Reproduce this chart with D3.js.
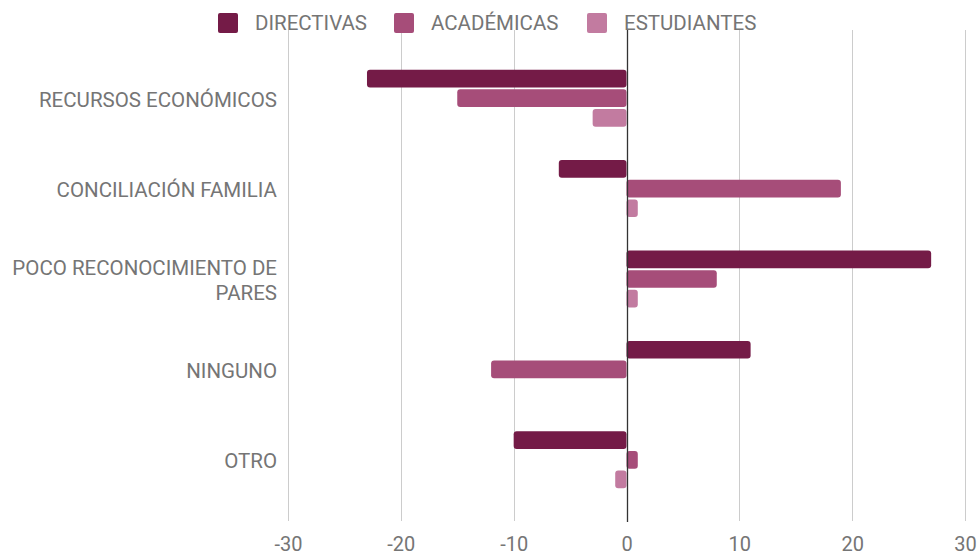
<!DOCTYPE html>
<html>
<head>
<meta charset="utf-8">
<script src="https://cdn.jsdelivr.net/npm/d3@7"></script>
<style>
  body { margin: 0; background: #fff; }
  text { font-family: Roboto, "Noto Sans", sans-serif; }
</style>
</head>
<body>
<div id="container"></div>
<script>
let w = 979;
let h = 555;

// data
let categories = ["RECURSOS ECONÓMICOS", "CONCILIACIÓN FAMILIA", "POCO RECONOCIMIENTO DE PARES", "NINGUNO", "OTRO"];
let series = ["DIRECTIVAS", "ACADÉMICAS", "ESTUDIANTES"];
let directivas = [-23, -6, 27, 11, -10];
let academicas = [-15, 19, 8, -12, 1];
let estudiantes = [-3, 1, 1, 0, -1];
let ticks = [-30, -20, -10, 0, 10, 20, 30];
let colors = ["#741b47", "#a64d79", "#c27ba0"];

let values = [directivas, academicas, estudiantes];

let viz = d3.select("#container")
  .append("svg")
    .attr("width", w)
    .attr("height", h)
    .style("background-color", "#fff");

let x = d3.scaleLinear().domain([-30, 30]).range([288, 965]);

let y = d3.scaleBand()
  .domain(categories)
  .range([53, 505])
  .paddingInner(0.37)
  .paddingOuter(0.185);

let ySub = d3.scaleBand()
  .domain(series)
  .range([0, y.bandwidth()])
  .paddingInner(0.1);

// grid lines
viz.append("g")
  .selectAll("line")
  .data(ticks.filter(d => d != 0))
  .enter()
  .append("line")
    .attr("x1", d => Math.round(x(d)) + 0.5)
    .attr("x2", d => Math.round(x(d)) + 0.5)
    .attr("y1", 30)
    .attr("y2", 521)
    .attr("stroke", "#cccccc")
    .attr("stroke-width", 1);

// bars
let rows = [];
categories.forEach((c, i) => {
  series.forEach((s, j) => {
    rows.push({cat: c, ser: s, val: values[j][i], col: colors[j]});
  });
});

viz.append("g")
  .selectAll("rect")
  .data(rows.filter(d => d.val != 0))
  .enter()
  .append("rect")
    .attr("x", d => x(Math.min(0, d.val)))
    .attr("y", d => y(d.cat) + ySub(d.ser))
    .attr("width", d => Math.abs(x(d.val) - x(0)))
    .attr("height", ySub.bandwidth())
    .attr("rx", 3)
    .attr("fill", d => d.col);

// zero line
viz.append("line")
  .attr("x1", Math.round(x(0)) + 0.5)
  .attr("x2", Math.round(x(0)) + 0.5)
  .attr("y1", 30)
  .attr("y2", 522)
  .attr("stroke", "#333333")
  .attr("stroke-width", 1.3);

// x axis labels
let xAxis = d3.axisBottom(x)
  .tickValues(ticks)
  .tickFormat(d => String(d))
  .tickSize(0)
  .tickPadding(0);
let gx = viz.append("g")
  .attr("transform", "translate(0,544)")
  .call(xAxis);
gx.select(".domain").remove();
gx.selectAll("text")
  .attr("dy", null)
  .attr("y", 0)
  .attr("dominant-baseline", "central")
  .style("font-size", "20px")
  .style("font-family", "Roboto, sans-serif")
  .attr("fill", "#757575");

// category labels
let labelLines = {
  "POCO RECONOCIMIENTO DE PARES": ["POCO RECONOCIMIENTO DE", "PARES"]
};
let gy = viz.append("g");
categories.forEach(c => {
  let lines = labelLines[c] || [c];
  let cy = y(c) + y.bandwidth() / 2 + 1.5;
  let t = gy.append("text")
    .attr("x", 277)
    .attr("y", cy - (lines.length - 1) * 12.5)
    .attr("text-anchor", "end")
    .attr("dominant-baseline", "central")
    .style("font-size", "20.5px")
    .attr("fill", "#757575");
  lines.forEach((l, k) => {
    t.append("tspan")
      .attr("x", 277)
      .attr("dy", k == 0 ? 0 : 25)
      .text(l);
  });
});

// legend
let legendX = [218, 394, 587];
let legend = viz.append("g");
series.forEach((s, i) => {
  legend.append("rect")
    .attr("x", legendX[i])
    .attr("y", 13)
    .attr("width", 20)
    .attr("height", 20)
    .attr("rx", 2)
    .attr("fill", colors[i]);
  legend.append("text")
    .attr("x", legendX[i] + 37)
    .attr("y", 23)
    .attr("dominant-baseline", "central")
    .style("font-size", "20.5px")
    .attr("fill", "#757575")
    .text(s);
});
</script>
</body>
</html>
